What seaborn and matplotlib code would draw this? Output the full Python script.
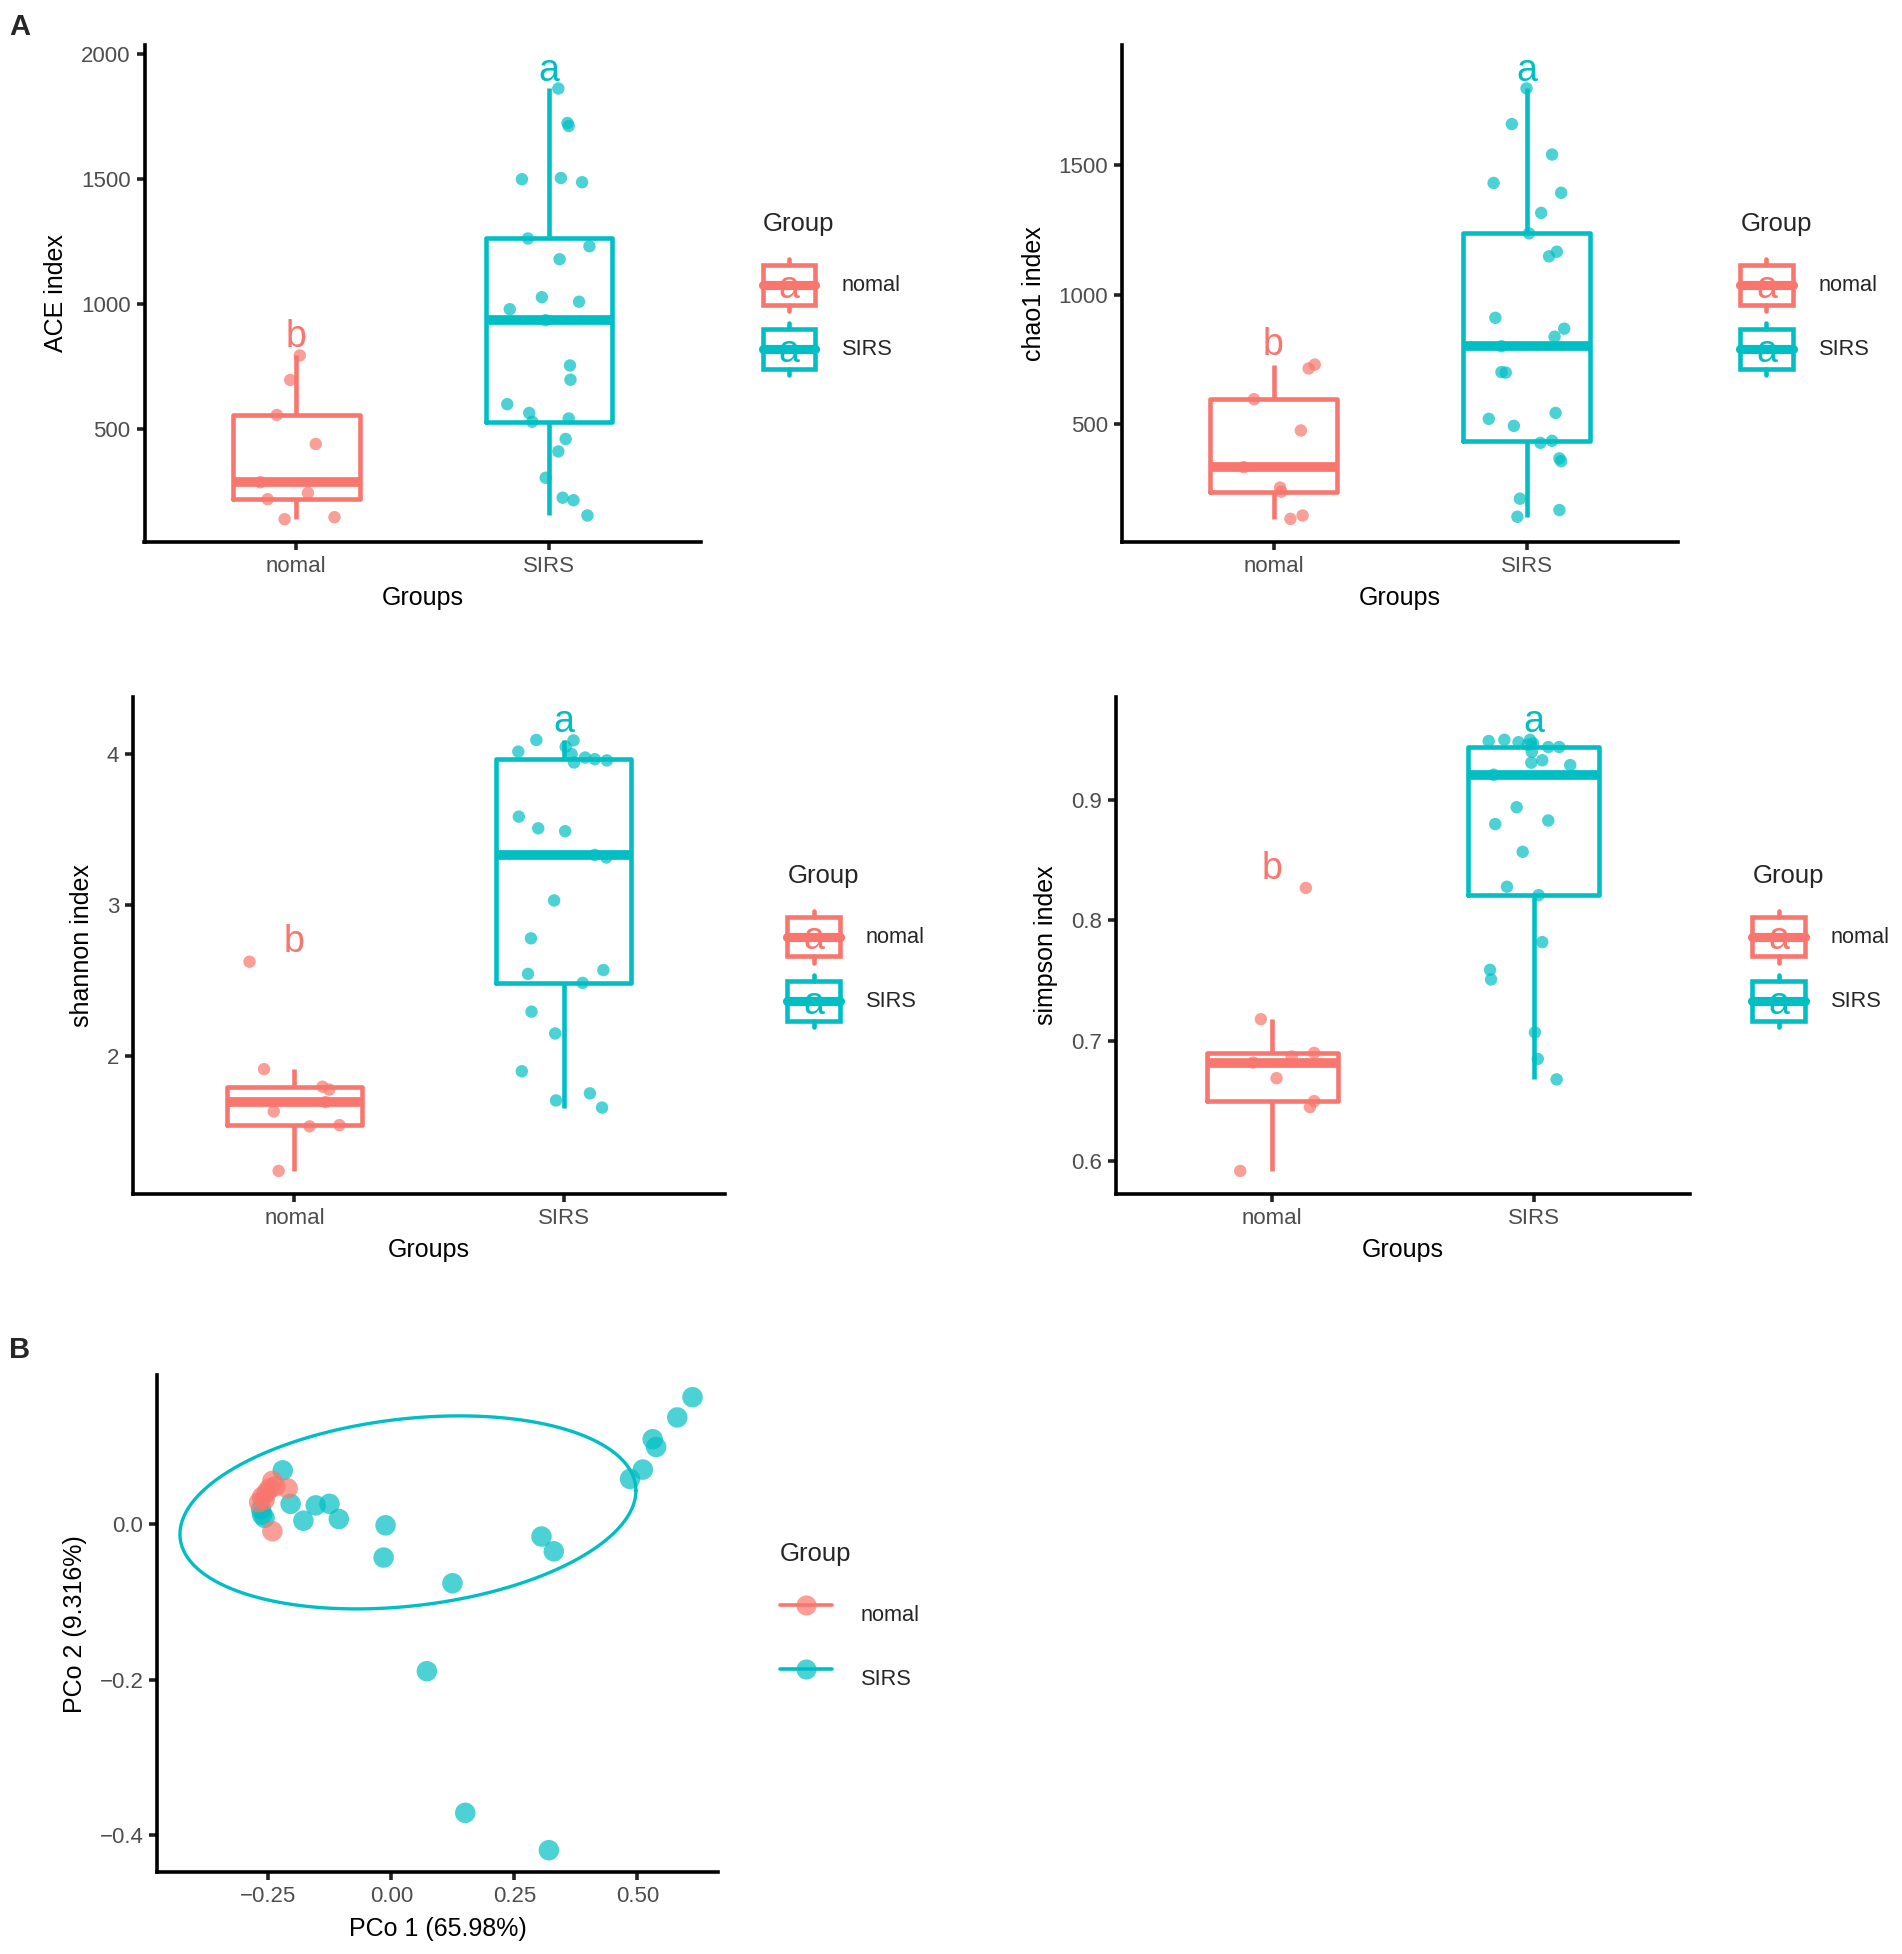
import numpy as np
import pandas as pd
import matplotlib
matplotlib.use('Agg')
import matplotlib.pyplot as plt
import seaborn as sns
from matplotlib.legend_handler import HandlerBase
from matplotlib.patches import Rectangle, Patch
from matplotlib.lines import Line2D
from matplotlib.text import Text
from matplotlib.ticker import FuncFormatter


GROUPS = ['nomal', 'SIRS']
PALETTE = {'nomal': '#F8766D', 'SIRS': '#00BFC4'}
LETTERS = ['b', 'a']

# ACE index
ace_nomal = [795, 697, 557, 441, 288, 245, 220, 140, 148]
ace_nomal_jit = [0.014, -0.024, -0.077, 0.077, -0.142, 0.046, -0.113, -0.046, 0.151]
ace_sirs = [1863, 1725, 1713, 1500, 1505, 1488, 1263, 1232, 1180, 1028, 1010, 980, 936,
            755, 698, 600, 565, 530, 543, 461, 411, 306, 226, 216, 155]
ace_sirs_jit = [0.036, 0.072, 0.077, -0.108, 0.046, 0.130, -0.084, 0.159, 0.041, -0.029, 0.118,
                -0.156, -0.014, 0.082, 0.084, -0.166, -0.079, -0.067, 0.077, 0.065, 0.036,
                -0.014, 0.053, 0.096, 0.151]
ace_letter_y = [870, 1933]

# chao1 index
chao_nomal = [729, 714, 595, 474, 332, 253, 237, 145, 132]
chao_nomal_jit = [0.163, 0.139, -0.077, 0.108, -0.118, 0.026, 0.031, 0.115, 0.067]
chao_sirs = [1798, 1660, 1542, 1432, 1394, 1316, 1237, 1166, 1148, 910, 868, 837, 800,
             700, 698, 519, 542, 492, 426, 434, 366, 355, 210, 166, 140]
chao_sirs_jit = [0.0, -0.058, 0.101, -0.130, 0.137, 0.058, 0.010, 0.120, 0.089, -0.123, 0.149,
                 0.111, -0.099, -0.099, -0.082, -0.149, 0.115, -0.050, 0.055, 0.101, 0.130,
                 0.137, -0.026, 0.130, -0.036]
chao_letter_y = [805, 1866]

# shannon index
shannon_nomal = [2.625, 1.915, 1.799, 1.780, 1.697, 1.636, 1.537, 1.545, 1.242]
shannon_nomal_jit = [-0.167, -0.113, 0.104, 0.129, 0.115, -0.077, 0.056, 0.167, -0.059]
shannon_sirs = [4.091, 4.088, 4.014, 3.997, 3.942, 3.964, 3.956, 3.584, 3.507, 3.488, 3.331,
                3.314, 3.030, 2.780, 2.545, 2.570, 2.485, 2.295, 2.151, 1.901, 1.708, 1.755,
                1.661, 3.975, 4.047]
shannon_sirs_jit = [-0.102, 0.036, -0.169, 0.029, 0.038, 0.115, 0.160, -0.167, -0.095, 0.005,
                    0.115, 0.158, -0.036, -0.122, -0.133, 0.147, 0.070, -0.120, -0.032, -0.156,
                    -0.029, 0.097, 0.142, 0.079, 0.007]
shannon_letter_y = [2.758, 4.21]

# simpson index
simpson_nomal = [0.827, 0.718, 0.690, 0.682, 0.669, 0.650, 0.645, 0.592, 0.687]
simpson_nomal_jit = [0.128, -0.044, 0.160, -0.074, 0.016, 0.160, 0.144, -0.123, 0.074]
simpson_sirs = [0.949, 0.950, 0.948, 0.950, 0.947, 0.944, 0.944, 0.940, 0.931, 0.933, 0.929,
                0.921, 0.894, 0.880, 0.883, 0.857, 0.828, 0.821, 0.782, 0.759, 0.751, 0.707,
                0.685, 0.668, 0.946]
simpson_sirs_jit = [-0.172, -0.112, -0.058, -0.014, -0.002, 0.056, 0.098, -0.007, -0.009, 0.033,
                    0.140, -0.153, -0.065, -0.147, 0.056, -0.042, -0.102, 0.019, 0.033, -0.167,
                    -0.163, 0.005, 0.016, 0.088, -0.023]
simpson_letter_y = [0.843, 0.965]

# PCoA
pcoa_nomal_x = [-0.242, -0.248, -0.254, -0.211, -0.263, -0.269, -0.242, -0.236, -0.258]
pcoa_nomal_y = [0.0555, 0.0458, 0.0404, 0.0458, 0.035, 0.028, -0.0092, 0.0485, 0.031]
pcoa_sirs_x = [0.612, 0.581, 0.531, 0.538, 0.511, 0.485, -0.221, -0.205, -0.154, -0.126, -0.107,
               -0.179, -0.263, -0.258, -0.012, -0.016, 0.305, 0.330, 0.124, 0.072, 0.150, 0.320,
               -0.265]
pcoa_sirs_y = [0.163, 0.137, 0.109, 0.099, 0.070, 0.058, 0.069, 0.026, 0.024, 0.026, 0.0065,
               0.0043, 0.012, 0.008, -0.0016, -0.043, -0.016, -0.035, -0.076, -0.189, -0.371,
               -0.419, 0.019]
# SIRS ellipse: centre, half extents, y shift at the x extreme
ellipse_center = (0.0335, 0.015)
ellipse_half_x = 0.4635
ellipse_half_y = 0.124
ellipse_dy = 0.028

FIG_W, FIG_H = 1902, 1954
LINE_W = 2.6
BOX_LW = 3.3
TITLE_GAP = 16.5  # points between legend title and first key


class BoxKeyHandler(HandlerBase):
    """Legend key that looks like ggplot's boxplot key with the text glyph on top."""

    def create_artists(self, legend, orig_handle, xdescent, ydescent, width, height,
                       fontsize, trans):
        color = orig_handle.get_edgecolor()
        x0, y0 = -xdescent, -ydescent
        box_h = height * 0.76
        by = y0 + (height - box_h) / 2
        cx = x0 + width / 2
        cy = y0 + height / 2
        return [
            Line2D([cx, cx], [y0, by], color=color, lw=BOX_LW, transform=trans),
            Line2D([cx, cx], [by + box_h, y0 + height], color=color, lw=BOX_LW,
                   transform=trans),
            Rectangle((x0, by), width, box_h, fill=False, edgecolor=color, lw=BOX_LW,
                      transform=trans),
            Line2D([x0, x0 + width], [cy, cy], color=color, lw=BOX_LW * 2, transform=trans),
            Text(cx, cy - 2, 'a', color=color, fontsize=27, ha='center', va='center',
                 transform=trans),
        ]


def add_axes_px(fig, left, top, right, bottom):
    return fig.add_axes([left / FIG_W, 1 - bottom / FIG_H, (right - left) / FIG_W,
                         (bottom - top) / FIG_H])


def style_axis(ax):
    sns.despine(ax=ax)
    for side in ['left', 'bottom']:
        ax.spines[side].set_linewidth(LINE_W)
        ax.spines[side].set_color('black')
    ax.tick_params(width=LINE_W, length=6, color='#222222', labelsize=16,
                   labelcolor='#4D4D4D', pad=4)


def legend_offset(ax):
    width_px = ax.get_position().width * FIG_W
    return 1.0 + 62 / width_px


def draw_alpha_panel(ax, nomal_vals, nomal_jit, sirs_vals, sirs_jit, letter_y, ylabel,
                     ylim, yticks, fmt=None):
    df = pd.DataFrame({
        'Group': ['nomal'] * len(nomal_vals) + ['SIRS'] * len(sirs_vals),
        'value': list(nomal_vals) + list(sirs_vals),
        'jitter': list(nomal_jit) + list(sirs_jit),
    })
    df['gidx'] = df['Group'].map({g: i for i, g in enumerate(GROUPS)})
    df['xpos'] = df['gidx'] + df['jitter']

    sns.scatterplot(data=df, x='xpos', y='value', hue='Group', hue_order=GROUPS,
                    palette=PALETTE, s=80, alpha=0.7, edgecolor='none', legend=False, ax=ax)
    sns.boxplot(data=df, x='gidx', y='value', hue='Group', hue_order=GROUPS, palette=PALETTE,
                native_scale=True, orient='x', fill=False, width=0.5, showcaps=False,
                showfliers=False, linewidth=BOX_LW, medianprops={'linewidth': 7},
                legend=False, ax=ax)

    for i, g in enumerate(GROUPS):
        ax.text(i, letter_y[i], LETTERS[i], color=PALETTE[g], fontsize=27,
                ha='center', va='center')

    ax.set_xlim(-0.6, 1.6)
    ax.set_ylim(*ylim)
    ax.set_xticks([0, 1], GROUPS)
    ax.set_yticks(yticks)
    if fmt:
        ax.yaxis.set_major_formatter(FuncFormatter(fmt))
    ax.set_xlabel('Groups', fontsize=18, color='black', labelpad=7)
    ax.set_ylabel(ylabel, fontsize=18, color='black', labelpad=9)
    style_axis(ax)

    handles = [Patch(edgecolor=PALETTE[g], facecolor='none') for g in GROUPS]
    leg = ax.legend(handles, GROUPS, title='Group', loc='center left',
                    bbox_to_anchor=(legend_offset(ax), 0.5), frameon=False, fontsize=15.7,
                    title_fontsize=18.5, handlelength=2.4, handleheight=3.3,
                    handletextpad=1.2, labelspacing=0.55, borderpad=0, borderaxespad=0,
                    alignment='left', handler_map={Patch: BoxKeyHandler()})
    leg._legend_box.sep = TITLE_GAP


def minus(fmt):
    return lambda v, _: fmt.format(v).replace('-', '\u2212')


sns.set_theme(style='ticks')
plt.rcParams['font.family'] = ['Liberation Sans', 'DejaVu Sans']

fig = plt.figure(figsize=(FIG_W / 100, FIG_H / 100), dpi=100)

ax1 = add_axes_px(fig, 144.5, 45, 701, 541.7)
draw_alpha_panel(ax1, ace_nomal, ace_nomal_jit, ace_sirs, ace_sirs_jit, ace_letter_y,
                 'ACE index', (50, 2037), [500, 1000, 1500, 2000])

ax2 = add_axes_px(fig, 1121.7, 45, 1678.3, 541.7)
draw_alpha_panel(ax2, chao_nomal, chao_nomal_jit, chao_sirs, chao_sirs_jit, chao_letter_y,
                 'chao1 index', (43.5, 1966), [500, 1000, 1500])

ax3 = add_axes_px(fig, 132.9, 696.7, 725.4, 1193.8)
draw_alpha_panel(ax3, shannon_nomal, shannon_nomal_jit, shannon_sirs, shannon_sirs_jit,
                 shannon_letter_y, 'shannon index', (1.091, 4.377), [2, 3, 4])

ax4 = add_axes_px(fig, 1115.6, 696.7, 1690.4, 1193.8)
draw_alpha_panel(ax4, simpson_nomal, simpson_nomal_jit, simpson_sirs, simpson_sirs_jit,
                 simpson_letter_y, 'simpson index', (0.573, 0.9858), [0.6, 0.7, 0.8, 0.9],
                 fmt=lambda v, _: f'{v:.1f}')

# PCoA panel
ax5 = add_axes_px(fig, 157.3, 1375.4, 718.1, 1872)
pc = pd.DataFrame({
    'PCo1': pcoa_sirs_x + pcoa_nomal_x,
    'PCo2': pcoa_sirs_y + pcoa_nomal_y,
    'Group': ['SIRS'] * len(pcoa_sirs_x) + ['nomal'] * len(pcoa_nomal_x),
})
sns.scatterplot(data=pc, x='PCo1', y='PCo2', hue='Group', hue_order=GROUPS, palette=PALETTE,
                s=218, alpha=0.7, edgecolor='none', legend=False, ax=ax5)

t = np.linspace(0, 2 * np.pi, 300)
ex = ellipse_center[0] + ellipse_half_x * np.cos(t)
ey = (ellipse_center[1] + ellipse_dy * np.cos(t)
      + np.sqrt(ellipse_half_y ** 2 - ellipse_dy ** 2) * np.sin(t))
ax5.plot(ex, ey, color=PALETTE['SIRS'], lw=2.4)

ax5.set_xlim(-0.476, 0.664)
ax5.set_ylim(-0.447, 0.191)
ax5.set_xticks([-0.25, 0.0, 0.25, 0.5])
ax5.set_yticks([-0.4, -0.2, 0.0])
ax5.xaxis.set_major_formatter(FuncFormatter(minus('{:.2f}')))
ax5.yaxis.set_major_formatter(FuncFormatter(minus('{:.1f}')))
ax5.set_xlabel('PCo 1 (65.98%)', fontsize=18, color='black', labelpad=7)
ax5.set_ylabel('PCo 2 (9.316%)', fontsize=18, color='black', labelpad=9)
style_axis(ax5)

pc_handles = [Line2D([0], [0], color=PALETTE[g], lw=2.6, marker='o', markersize=14.5,
                     markerfacecolor=matplotlib.colors.to_rgba(PALETTE[g], 0.7),
                     markeredgecolor='none') for g in GROUPS]
leg5 = ax5.legend(pc_handles, GROUPS, title='Group', loc='center left',
                  bbox_to_anchor=(legend_offset(ax5), 0.5), frameon=False, fontsize=15.7,
                  title_fontsize=18.5, handlelength=2.4, handleheight=3.3, handletextpad=1.3,
                  labelspacing=0.55, borderpad=0, borderaxespad=0, alignment='left')
leg5._legend_box.sep = TITLE_GAP

fig.text(9 / FIG_W, 1 - 13 / FIG_H, 'A', fontsize=21, fontweight='bold', va='top', ha='left')
fig.text(9 / FIG_W, 1 - 1336 / FIG_H, 'B', fontsize=21, fontweight='bold', va='top', ha='left')

fig.savefig('out.png', dpi=100, facecolor='white')
